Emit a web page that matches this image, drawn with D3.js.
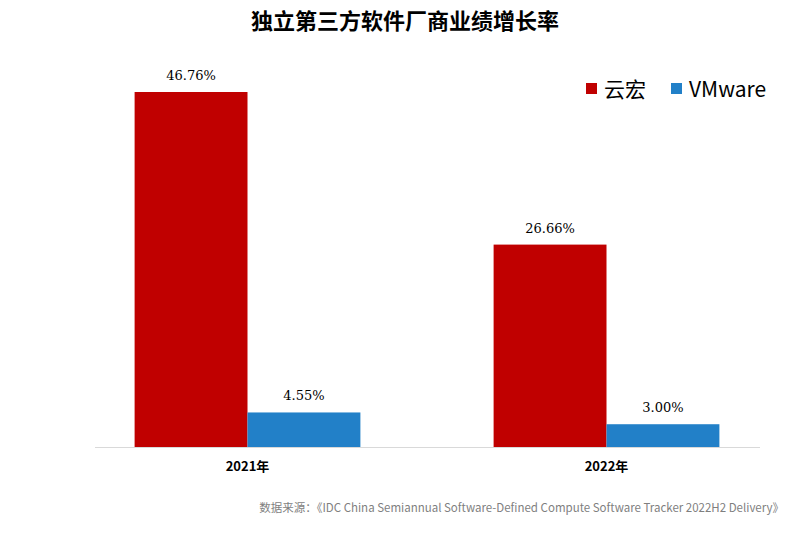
<!DOCTYPE html>
<meta charset="utf-8">
<script src="https://d3js.org/d3.v7.min.js"></script>
<style>body{margin:0;background:#fff}</style>
<div id="chart"></div>
<script>
// data
var years = ["2021年", "2022年"];
var seriesNames = ["云宏", "VMware"];
var yunhong = [46.76, 26.66];
var vmware = [4.55, 3.00];
var colors = ["#c00000", "#2280c8"];

var W = 800, H = 537;
var svg = d3.select("#chart").append("svg").attr("width", W).attr("height", H);
var font = "'DejaVu Serif', 'Noto Sans CJK SC', serif";

svg.append("text").attr("x", 405).attr("y", 29).attr("text-anchor", "middle")
  .style("font-family", "'Noto Sans CJK SC', serif").style("font-weight", "bold").style("font-size", "22px")
  .text("独立第三方软件厂商业绩增长率");

var x0 = d3.scaleBand().domain(years).range([68, 786]).paddingInner(0.0).paddingOuter(0.0);
var x1 = d3.scaleBand().domain(seriesNames).range([0, x0.bandwidth()]).paddingInner(0).paddingOuter(0.59);
var y = d3.scaleLinear().domain([0, 46.76]).range([447, 92]);

svg.append("line").attr("x1", 95).attr("x2", 760).attr("y1", 447.5).attr("y2", 447.5)
  .attr("stroke", "#d9d9d9");

var rows = years.map(function(yr, i){ return {year: yr, vals: [yunhong[i], vmware[i]]}; });
var g = svg.selectAll("g.grp").data(rows).enter().append("g")
  .attr("transform", function(d){ return "translate(" + x0(d.year) + ",0)"; });
g.selectAll("rect").data(function(d){ return d.vals; }).enter().append("rect")
  .attr("x", function(d, i){ return x1(seriesNames[i]); })
  .attr("width", x1.bandwidth())
  .attr("y", function(d){ return y(d); })
  .attr("height", function(d){ return y(0) - y(d); })
  .attr("fill", function(d, i){ return colors[i]; });
g.selectAll("text.v").data(function(d){ return d.vals; }).enter().append("text")
  .attr("x", function(d, i){ return x1(seriesNames[i]) + x1.bandwidth() / 2; })
  .attr("y", function(d){ return y(d) - 12; })
  .attr("text-anchor", "middle").style("font-family", font).style("font-size", "13px")
  .text(function(d){ return d.toFixed(2) + "%"; });

svg.append("g").selectAll("text").data(years).enter().append("text")
  .attr("x", function(d){ return x0(d) + x0.bandwidth() / 2; }).attr("y", 471)
  .attr("text-anchor", "middle").style("font-family", "'Noto Sans CJK SC', serif")
  .style("font-weight", "bold").style("font-size", "13px").text(function(d){ return d; });

// legend
var lx = [586, 671];
seriesNames.forEach(function(n, i){
  svg.append("rect").attr("x", lx[i]).attr("y", 83).attr("width", 11).attr("height", 11).attr("fill", colors[i]);
  svg.append("text").attr("x", lx[i] + 18).attr("y", 97).style("font-family", "'Noto Sans CJK SC', 'DejaVu Serif', serif")
    .style("font-size", "21px").text(n);
});

svg.append("text").attr("x", 784).attr("y", 512).attr("text-anchor", "end")
  .style("font-family", "'Noto Sans CJK SC', serif").style("font-size", "11.5px").attr("fill", "#7f7f7f")
  .text("数据来源：《IDC China Semiannual Software-Defined Compute Software Tracker 2022H2 Delivery》");
</script>
